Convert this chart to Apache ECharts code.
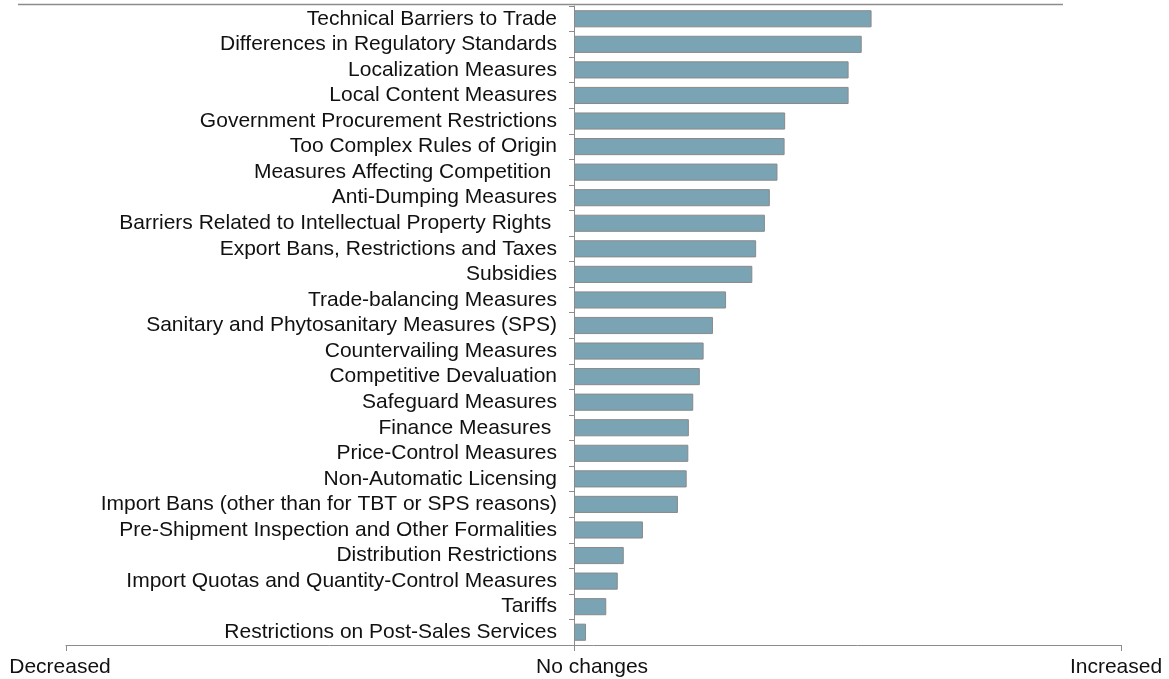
<!DOCTYPE html>
<html>
<head>
<meta charset="utf-8">
<script src="https://cdn.jsdelivr.net/npm/echarts@6/dist/echarts.min.js"></script>
<style>
  html, body { margin: 0; padding: 0; background: #fff; }
  #main { width: 1169px; height: 679px; }
</style>
</head>
<body>
<div id="main"></div>
<script>
  // categories top to bottom
  var categories = [
    'Technical Barriers to Trade',
    'Differences in Regulatory Standards',
    'Localization Measures',
    'Local Content Measures',
    'Government Procurement Restrictions',
    'Too Complex Rules of Origin',
    'Measures Affecting Competition ',
    'Anti-Dumping Measures',
    'Barriers Related to Intellectual Property Rights ',
    'Export Bans, Restrictions and Taxes',
    'Subsidies',
    'Trade-balancing Measures',
    'Sanitary and Phytosanitary Measures (SPS)',
    'Countervailing Measures',
    'Competitive Devaluation',
    'Safeguard Measures',
    'Finance Measures ',
    'Price-Control Measures',
    'Non-Automatic Licensing',
    'Import Bans (other than for TBT or SPS reasons)',
    'Pre-Shipment Inspection and Other Formalities',
    'Distribution Restrictions',
    'Import Quotas and Quantity-Control Measures',
    'Tariffs',
    'Restrictions on Post-Sales Services'
  ]

  // net change, -1 = decreased ... 1 = increased
  var values = [
    0.544, 0.526, 0.502, 0.502, 0.386, 0.385, 0.372, 0.358, 0.349, 0.333,
    0.326, 0.278, 0.254, 0.237, 0.230, 0.218, 0.210, 0.209, 0.206, 0.190,
    0.126, 0.091, 0.080, 0.059, 0.022
  ]

  var xMin = -0.929
  var xTicks = [xMin, 0, 1]
  var xTickLabels = ['Decreased', 'No changes', 'Increased']

  var font = 'Liberation Sans, Arial, sans-serif'
  var fs = 21
  var axisGray = '#8c8c8c'

  var myChart = echarts.init(document.getElementById('main'))
  myChart.setOption({
    animation: false,
    grid: [
      // bars: zero line to the right edge
      { left: 574, right: 48, top: 6, bottom: 34, outerBoundsMode: 'none' },
      // full decreased..increased scale, for the bottom axis
      { left: 66, right: 48, top: 6, bottom: 34, outerBoundsMode: 'none' }
    ],
    xAxis: [
      {
        gridIndex: 0,
        type: 'value',
        min: 0,
        max: 1,
        show: false
      },
      {
        gridIndex: 1,
        type: 'value',
        min: xMin,
        max: 1,
        splitLine: { show: false },
        axisLine: { show: true, lineStyle: { color: axisGray, width: 1 } },
        axisTick: {
          show: true,
          length: 6,
          customValues: xTicks,
          lineStyle: { color: axisGray }
        },
        axisLabel: {
          customValues: xTicks,
          margin: 12,
          fontFamily: font,
          fontSize: fs,
          color: '#111',
          formatter: function (v) {
            var i = xTicks.indexOf(v)
            var key = ['l', 'm', 'r'][i]
            return '{' + key + '|' + xTickLabels[i] + '}'
          },
          rich: {
            l: { fontFamily: font, fontSize: fs, color: '#111', padding: [0, 12, 0, 0] },
            m: { fontFamily: font, fontSize: fs, color: '#111', padding: [0, 0, 0, 36] },
            r: { fontFamily: font, fontSize: fs, color: '#111', padding: [0, 10, 0, 0] }
          }
        }
      }
    ],
    yAxis: [
      {
        gridIndex: 0,
        type: 'category',
        inverse: true,
        data: categories,
        axisLine: { show: true, lineStyle: { color: axisGray } },
        axisTick: { show: true, length: 5, interval: 0, lineStyle: { color: axisGray } },
        axisLabel: {
          interval: 0,
          margin: 17,
          fontFamily: font,
          fontSize: fs,
          color: '#111'
        }
      },
      {
        gridIndex: 1,
        type: 'value',
        show: false
      }
    ],
    graphic: [
      {
        type: 'line',
        shape: { x1: 18, y1: 4.5, x2: 1063, y2: 4.5 },
        style: { stroke: axisGray, lineWidth: 1.5 }
      }
    ],
    series: [
      {
        type: 'bar',
        xAxisIndex: 0,
        yAxisIndex: 0,
        data: values,
        barCategoryGap: '33%',
        itemStyle: {
          color: '#7aa3b3',
          borderColor: '#8a8a8a',
          borderWidth: 1
        }
      }
    ]
  })
</script>
</body>
</html>
